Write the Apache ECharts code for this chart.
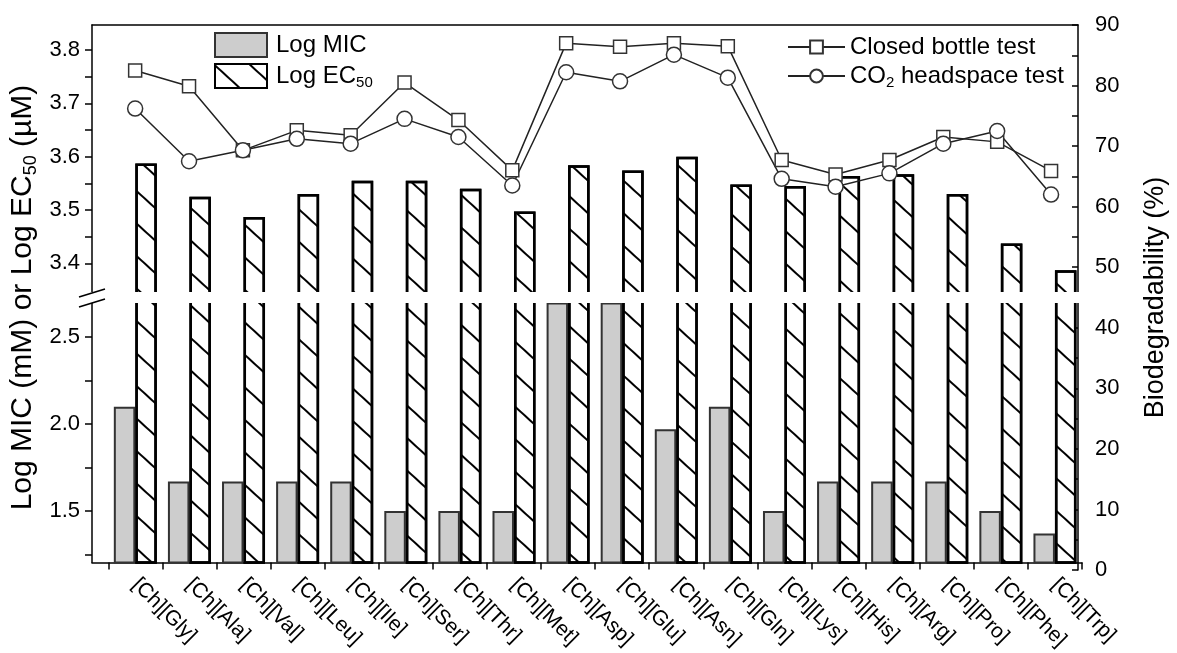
<!DOCTYPE html>
<html>
<head>
<meta charset="utf-8">
<script src="https://cdn.jsdelivr.net/npm/echarts@6/dist/echarts.min.js"></script>
<style>
html,body{margin:0;padding:0;background:#fff;}
#chart{width:1177px;height:653px;}
</style>
</head>
<body>
<div id="chart"></div>
<script>
// ---- data ----
var categories = ['[Ch][Gly]','[Ch][Ala]','[Ch][Val]','[Ch][Leu]','[Ch][Ile]','[Ch][Ser]','[Ch][Thr]','[Ch][Met]','[Ch][Asp]','[Ch][Glu]','[Ch][Asn]','[Ch][Gln]','[Ch][Lys]','[Ch][His]','[Ch][Arg]','[Ch][Pro]','[Ch][Phe]','[Ch][Trp]'];
var logMIC = [2.10,1.67,1.67,1.67,1.67,1.50,1.50,1.50,2.70,2.70,1.97,2.10,1.50,1.67,1.67,1.67,1.50,1.37];
var logEC50 = [3.587,3.525,3.487,3.530,3.555,3.555,3.540,3.497,3.584,3.574,3.600,3.548,3.545,3.564,3.567,3.530,3.437,3.387];
var closedBottle = [82.5,79.9,69.3,72.6,71.8,80.5,74.3,66.0,87.0,86.4,87.0,86.5,67.7,65.3,67.7,71.5,70.7,65.9];
var co2Headspace = [76.2,67.5,69.3,71.2,70.4,74.5,71.5,63.5,82.2,80.7,85.1,81.3,64.6,63.3,65.5,70.4,72.5,62.0];
var upperTicks = [3.4,3.45,3.5,3.55,3.6,3.65,3.7,3.75,3.8];
var upperLabels = [3.4,3.5,3.6,3.7,3.8];
var lowerTicks = [1.25,1.5,1.75,2.0,2.25,2.5];
var lowerLabels = [1.5,2.0,2.5];
var rightTicks = [0,5,10,15,20,25,30,35,40,45,50,55,60,65,70,75,80,85,90];
var rightLabels = [0,10,20,30,40,50,60,70,80,90];

var FONT = '"Liberation Sans", Arial, sans-serif';
var pairs = function(arr){ return arr.map(function(v,i){ return [i, v]; }); };
var xBoundaries = categories.map(function(c,i){ return i - 0.5; }).concat([categories.length - 0.5]);
var xCenters = categories.map(function(c,i){ return i; });

var X_MIN = -0.801, X_MAX = 17.5;
var L = 92, R = 95;

var hatch = {
  symbol: 'rect', symbolSize: 1, color: '#000', backgroundColor: 'rgba(0,0,0,0)',
  dashArrayX: [1, 0], dashArrayY: [1.6, 22], rotation: 0.74
};
var micStyle = { color: '#cdcdcd', borderColor: '#333', borderWidth: 2 };
var ecStyle = { color: '#fff', borderColor: '#000', borderWidth: 2.5, decal: hatch };

function plainX(gridIndex, show, pos) {
  return {
    type: 'value', gridIndex: gridIndex, min: X_MIN, max: X_MAX, position: pos || 'bottom',
    splitLine: {show: false},
    axisLine: {show: show, onZero: false, lineStyle: {color: '#000', width: 1.5}},
    axisTick: {show: false}, axisLabel: {show: false}
  };
}
function leftY(gridIndex, min, max, ticks, labels) {
  return {
    type: 'value', gridIndex: gridIndex, min: min, max: max, position: 'left',
    splitLine: {show: false},
    axisLine: {show: true, onZero: false, lineStyle: {color: '#000', width: 1.5}},
    axisTick: {show: true, inside: false, length: 7, customValues: ticks, lineStyle: {color: '#000', width: 1.5}},
    axisLabel: {customValues: labels, fontSize: 22, color: '#000', margin: 12, fontFamily: FONT,
      formatter: function(v){ return v.toFixed(1); }}
  };
}

var chart = echarts.init(document.getElementById('chart'), null, {renderer: 'canvas'});
chart.setOption({
  animation: false,
  backgroundColor: '#fff',
  textStyle: {fontFamily: FONT},
  grid: [
    {left: L, right: R, top: 25, height: 272},   // upper (EC50 range)
    {left: L, right: R, top: 297, height: 273},  // lower (MIC range)
    {left: L, right: R, top: 25, height: 545}    // full height (biodegradability)
  ],
  xAxis: [
    plainX(0, false),
    {
      type: 'value', gridIndex: 1, min: X_MIN, max: X_MAX, position: 'bottom',
      splitLine: {show: false},
      axisLine: {show: true, onZero: false, lineStyle: {color: '#000', width: 1.5}},
      axisTick: {show: true, inside: false, length: 7, customValues: xBoundaries, lineStyle: {color: '#000', width: 1.5}},
      axisLabel: {
        show: true, customValues: xCenters, rotate: -45, margin: 19,
        fontSize: 21, color: '#000', fontFamily: FONT,
        formatter: function(v){ return categories[Math.round(v)] || ''; }
      }
    },
    plainX(2, true, 'top')
  ],
  yAxis: [
    leftY(0, 3.3369, 3.8469, upperTicks, upperLabels),
    leftY(1, 1.2034, 2.7311, lowerTicks, lowerLabels),
    {
      type: 'value', gridIndex: 2, min: 0, max: 90, position: 'right',
      splitLine: {show: false},
      axisLine: {show: true, onZero: false, lineStyle: {color: '#000', width: 1.5}},
      axisTick: {show: true, inside: true, length: 6, customValues: rightTicks, lineStyle: {color: '#000', width: 1.5}},
      axisLabel: {customValues: rightLabels, fontSize: 22, color: '#000', margin: 17, fontFamily: FONT},
      name: 'Biodegradability (%)', nameLocation: 'middle', nameGap: 64,
      nameTextStyle: {fontSize: 27, color: '#000', fontFamily: FONT}
    },
    {
      type: 'value', gridIndex: 2, min: 0, max: 1, position: 'left',
      splitLine: {show: false}, axisLine: {show: false, onZero: false}, axisTick: {show: false}, axisLabel: {show: false},
      name: 'Log MIC (mM) or Log EC{sub|50} (µM)', nameLocation: 'middle', nameGap: 52,
      nameTextStyle: {fontSize: 30, color: '#000', fontFamily: FONT,
        rich: {sub: {fontSize: 18, color: '#000', fontFamily: FONT, padding: [16, 0, 0, 0]}}}
    }
  ],
  legend: [
    {
      data: ['Log MIC', 'Log EC50'],
      orient: 'vertical', left: 214, top: 32, itemWidth: 52, itemHeight: 24, itemGap: 5, padding: 0,
      icon: 'rect',
      textStyle: {fontSize: 24, color: '#000', fontFamily: FONT, padding: [0, 0, 0, 4],
        rich: {sub: {fontSize: 15, color: '#000', fontFamily: FONT, padding: [14, 0, 0, 0]}}},
      formatter: function(n){ return n === 'Log EC50' ? 'Log EC{sub|50}' : n; }
    },
    {
      data: ['Closed bottle test', 'CO2 headspace test'],
      orient: 'vertical', left: 787, top: 35, itemWidth: 57, itemHeight: 16, itemGap: 5, padding: 0,
      textStyle: {fontSize: 24, color: '#000', fontFamily: FONT,
        rich: {sub: {fontSize: 15, color: '#000', fontFamily: FONT, padding: [14, 0, 0, 0]}}},
      formatter: function(n){ return n === 'CO2 headspace test' ? 'CO{sub|2} headspace test' : n; }
    }
  ],
  series: [
    {name: 'Log MIC', type: 'bar', xAxisIndex: 0, yAxisIndex: 0, data: pairs(logMIC), barWidth: 21.5, barGap: '0%', clip: true, itemStyle: micStyle},
    {name: 'Log EC50', type: 'bar', xAxisIndex: 0, yAxisIndex: 0, data: pairs(logEC50), barWidth: 21.5, barGap: '0%', clip: true, itemStyle: ecStyle},
    {name: 'Log MIC', type: 'bar', xAxisIndex: 1, yAxisIndex: 1, data: pairs(logMIC), barWidth: 21.5, barGap: '0%', clip: true, itemStyle: micStyle},
    {name: 'Log EC50', type: 'bar', xAxisIndex: 1, yAxisIndex: 1, data: pairs(logEC50), barWidth: 21.5, barGap: '0%', clip: true, itemStyle: ecStyle},
    {name: 'Closed bottle test', type: 'line', xAxisIndex: 2, yAxisIndex: 2, data: pairs(closedBottle), z: 5,
      symbol: 'rect', symbolSize: 13, lineStyle: {color: '#222', width: 1.5},
      itemStyle: {color: '#fff', borderColor: '#333', borderWidth: 1.5}},
    {name: 'CO2 headspace test', type: 'line', xAxisIndex: 2, yAxisIndex: 2, data: pairs(co2Headspace), z: 5,
      symbol: 'circle', symbolSize: 15, lineStyle: {color: '#222', width: 1.5},
      itemStyle: {color: '#fff', borderColor: '#333', borderWidth: 1.5}}
  ],
  graphic: [
    {type: 'rect', z: 100, shape: {x: 90, y: 292, width: 990, height: 11}, style: {fill: '#fff'}},
    {type: 'line', z: 101, shape: {x1: 79, y1: 297, x2: 105, y2: 289}, style: {stroke: '#000', lineWidth: 1.5}},
    {type: 'line', z: 101, shape: {x1: 79, y1: 307, x2: 105, y2: 299}, style: {stroke: '#000', lineWidth: 1.5}}
  ]
});
</script>
</body>
</html>
